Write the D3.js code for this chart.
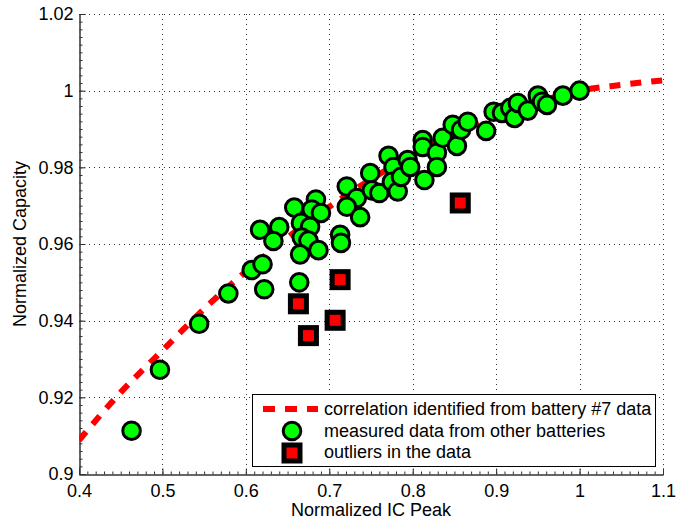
<!DOCTYPE html>
<html>
<head>
<meta charset="utf-8">
<script src="https://cdn.jsdelivr.net/npm/d3@7"></script>
<style>
  body { margin: 0; background: #fff; }
  text { font-family: "Liberation Sans", Arial, sans-serif; fill: #000; }
</style>
</head>
<body>
<svg id="chart" width="694" height="520"></svg>
<script>
// correlation curve (battery #7)
var curveX = [0.40, 0.45, 0.50, 0.55, 0.60, 0.65, 0.70, 0.75, 0.80, 0.85, 0.90, 0.95, 1.00, 1.05, 1.10];
var curveY = [0.9088, 0.9213, 0.9322, 0.9431, 0.9528, 0.9617, 0.9697, 0.9769, 0.9832, 0.9887, 0.9933, 0.9970, 1.0000, 1.0015, 1.0027];

// measured data from other batteries
var measuredX = [0.463, 0.497, 0.544, 0.579, 0.607, 0.620, 0.622, 0.664, 0.617, 0.640,
                 0.633, 0.658, 0.684, 0.679, 0.690, 0.666, 0.677, 0.667, 0.675, 0.665,
                 0.687, 0.713, 0.714, 0.721, 0.733, 0.721, 0.737, 0.749, 0.751, 0.760,
                 0.771, 0.777, 0.775, 0.782, 0.786, 0.794, 0.797, 0.812, 0.812, 0.814,
                 0.829, 0.829, 0.836, 0.848, 0.853, 0.858, 0.866, 0.888, 0.897, 0.907,
                 0.917, 0.922, 0.926, 0.938, 0.950, 0.955, 0.961, 0.980, 1.000];
var measuredY = [0.9113, 0.9272, 0.9392, 0.9471, 0.9532, 0.9547, 0.9482, 0.9500, 0.9637, 0.9644,
                 0.9608, 0.9695, 0.9716, 0.9690, 0.9681, 0.9655, 0.9645, 0.9617, 0.9609, 0.9573,
                 0.9584, 0.9624, 0.9603, 0.9750, 0.9720, 0.9697, 0.9670, 0.9785, 0.9740, 0.9733,
                 0.9830, 0.9801, 0.9762, 0.9737, 0.9775, 0.9819, 0.9801, 0.9871, 0.9853, 0.9767,
                 0.9838, 0.9801, 0.9877, 0.9911, 0.9856, 0.9898, 0.9919, 0.9895, 0.9945, 0.9942,
                 0.9955, 0.9929, 0.9968, 0.9948, 0.9987, 0.9971, 0.9963, 0.9987, 1.0000];

// outliers
var outlierX = [0.663, 0.675, 0.707, 0.713, 0.857];
var outlierY = [0.9444, 0.9361, 0.9401, 0.9507, 0.9707];

var xTicks = [0.4, 0.5, 0.6, 0.7, 0.8, 0.9, 1, 1.1];
var yTicks = [0.9, 0.92, 0.94, 0.96, 0.98, 1, 1.02];

var legendLabels = ["correlation identified from battery #7 data",
                    "measured data from other batteries",
                    "outliers in the data"];

var FONT = 18;
var svg = d3.select("#chart");
var pLeft = 79, pRight = 663, pTop = 14, pBottom = 474;

var x = d3.scaleLinear().domain([0.4, 1.1]).range([pLeft, pRight]);
var y = d3.scaleLinear().domain([0.9, 1.02]).range([pBottom, pTop]);

svg.append("clipPath").attr("id", "clip")
    .append("rect").attr("x", pLeft).attr("y", pTop)
    .attr("width", pRight - pLeft).attr("height", pBottom - pTop);

// dotted grid
var grid = svg.append("g").attr("class", "grid");
grid.selectAll("line.gx").data(xTicks.slice(1)).enter().append("line")
    .attr("x1", d => Math.round(x(d)) + 0.5).attr("x2", d => Math.round(x(d)) + 0.5)
    .attr("y1", pTop).attr("y2", pBottom);
grid.selectAll("line.gy").data(yTicks.slice(1)).enter().append("line")
    .attr("x1", pLeft).attr("x2", pRight)
    .attr("y1", d => Math.round(y(d)) + 0.5).attr("y2", d => Math.round(y(d)) + 0.5);
grid.selectAll("line")
    .attr("stroke", "#333").attr("stroke-width", 1)
    .attr("stroke-dasharray", "1,4");

// axes (MATLAB style: ticks pointing inward)
var xAxis = d3.axisBottom(x).tickValues(xTicks).tickSize(-6).tickPadding(10)
    .tickFormat(d3.format("~g"));
var yAxis = d3.axisLeft(y).tickValues(yTicks).tickSize(-6).tickPadding(6)
    .tickFormat(d3.format("~g"));
var xMinor = d3.axisBottom(x).tickValues(d3.range(0, 71).map(i => 0.4 + i * 0.01)).tickSize(-3).tickFormat("");
var yMinor = d3.axisLeft(y).tickValues(d3.range(0, 61).map(i => 0.9 + i * 0.002)).tickSize(-3).tickFormat("");

svg.append("g").attr("transform", "translate(0," + (pBottom + 0.5) + ")").call(xMinor);
svg.append("g").attr("transform", "translate(" + (pLeft + 0.5) + ",0)").call(yMinor);
var gx = svg.append("g").attr("transform", "translate(0," + (pBottom + 0.5) + ")").call(xAxis);
var gy = svg.append("g").attr("transform", "translate(" + (pLeft + 0.5) + ",0)").call(yAxis);
svg.selectAll(".domain, .tick line").attr("stroke", "#333");
svg.selectAll(".tick text").attr("font-size", FONT).attr("fill", "#000")
    .attr("font-family", "'Liberation Sans', Arial, sans-serif");

// axis titles
svg.append("text").attr("x", (pLeft + pRight) / 2).attr("y", 516)
    .attr("text-anchor", "middle").attr("font-size", FONT).text("Normalized IC Peak");
svg.append("text").attr("transform", "translate(26," + ((pTop + pBottom) / 2) + ") rotate(-90)")
    .attr("text-anchor", "middle").attr("font-size", FONT).text("Normalized Capacity");

var plot = svg.append("g").attr("clip-path", "url(#clip)");

// correlation curve
var curvePts = curveX.map((d, i) => [d, curveY[i]]);
plot.append("path").datum(curvePts)
    .attr("d", d3.line().x(d => x(d[0])).y(d => y(d[1])).curve(d3.curveMonotoneX))
    .attr("fill", "none").attr("stroke", "#ff0000").attr("stroke-width", 6)
    .attr("stroke-dasharray", "11,10");

// measured circles
var measured = measuredX.map((d, i) => [d, measuredY[i]]);
svg.append("g").selectAll("circle").data(measured).enter().append("circle")
    .attr("cx", d => x(d[0])).attr("cy", d => y(d[1])).attr("r", 8.8)
    .attr("fill", "#00ff00").attr("stroke", "#000").attr("stroke-width", 3);

// outliers
var outliers = outlierX.map((d, i) => [d, outlierY[i]]);
svg.append("g").selectAll("rect").data(outliers).enter().append("rect")
    .attr("x", d => x(d[0]) - 8).attr("y", d => y(d[1]) - 8)
    .attr("width", 16).attr("height", 16)
    .attr("fill", "#ff0000").attr("stroke", "#000").attr("stroke-width", 5);

// legend
var lg = svg.append("g");
lg.append("rect").attr("x", 252.5).attr("y", 394.5).attr("width", 403).attr("height", 72)
    .attr("fill", "#fff").attr("stroke", "#000").attr("stroke-width", 1);
var rowY = [409, 431, 453];
lg.append("line").attr("x1", 263).attr("x2", 318).attr("y1", rowY[0]).attr("y2", rowY[0])
    .attr("stroke", "#ff0000").attr("stroke-width", 6).attr("stroke-dasharray", "12,10");
lg.append("circle").attr("cx", 292).attr("cy", rowY[1]).attr("r", 8.8)
    .attr("fill", "#00ff00").attr("stroke", "#000").attr("stroke-width", 3);
lg.append("rect").attr("x", 292 - 8).attr("y", rowY[2] - 8).attr("width", 16).attr("height", 16)
    .attr("fill", "#ff0000").attr("stroke", "#000").attr("stroke-width", 5);
lg.selectAll("text.lab").data(legendLabels).enter().append("text")
    .attr("x", 324).attr("y", (d, i) => [415, 437, 458][i])
    .attr("font-size", FONT).text(d => d);
</script>
</body>
</html>
